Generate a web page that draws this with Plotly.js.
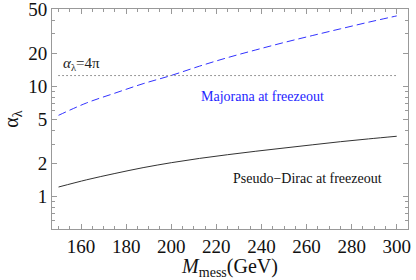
<!DOCTYPE html>
<html><head><meta charset="utf-8">
<script src="https://cdn.plot.ly/plotly-3.0.1.min.js"></script>
<style>html,body{margin:0;padding:0;background:#fff}#c{width:416px;height:280px}</style>
</head><body><div id="c"></div>
<script>
const mass = [150, 162.5, 175, 187.5, 200, 212.5, 225, 237.5, 250, 262.5, 275, 287.5, 300];
const majorana = [5.47, 7.1, 8.7, 10.6, 12.6, 15.3, 18.3, 21.5, 25.1, 29.0, 33.4, 38.4, 43.8];
const pseudoDirac = [1.22, 1.42, 1.62, 1.83, 2.03, 2.22, 2.4, 2.58, 2.76, 2.95, 3.15, 3.34, 3.53];
const bound = 12.566; // 4*pi
const boundX = [150, 300];
const yTickVals = [1, 2, 5, 10, 20, 50];
const yTickText = ["1", "2", "5", "10", "20", "50"];
const yMinorVals = [0.6, 0.7, 0.8, 0.9, 3, 4, 6, 7, 8, 9, 30, 40];
const xTickVals = [160, 180, 200, 220, 240, 260, 280, 300];

const serif = "'Liberation Serif', 'DejaVu Serif', serif";
const traces = [
  {x: mass, y: majorana, mode: "lines", line: {color: "rgb(50,50,255)", width: 1, dash: "8px,4px", shape: "spline"}, hoverinfo: "skip"},
  {x: mass, y: pseudoDirac, mode: "lines", line: {color: "#333", width: 1, shape: "spline"}, hoverinfo: "skip"},
  {x: boundX, y: [bound, bound], mode: "lines", line: {color: "#333", width: 1, dash: "1px,3px"}, hoverinfo: "skip"}
];
const axisCommon = {
  showgrid: false, zeroline: false, showline: true, linecolor: "#999", linewidth: 1,
  mirror: "allticks", ticks: "inside", ticklen: 5, tickcolor: "#999", tickwidth: 1,
  ticklabeloverflow: "allow",
  tickfont: {family: serif, size: 19, color: "#111"}
};
const layout = {
  width: 416, height: 280, showlegend: false,
  font: {family: serif},
  margin: {l: 52, r: 8, t: 9, b: 51},
  paper_bgcolor: "#fff", plot_bgcolor: "#fff",
  xaxis: Object.assign({}, axisCommon, {
    range: [147.1, 305], tickmode: "array", tickvals: xTickVals,
    minor: {dtick: 5, tick0: 150, ticks: "inside", ticklen: 3, tickcolor: "#999"},
    title: {text: "<i>M</i><sub>mess</sub>(GeV)", font: {family: serif, size: 20, color: "#111"}, standoff: 4}
  }),
  yaxis: Object.assign({}, axisCommon, {
    type: "log", range: [Math.log10(0.507), Math.log10(50.6)],
    tickmode: "array", tickvals: yTickVals, ticktext: yTickText,
    minor: {tickmode: "array", tickvals: yMinorVals, ticks: "inside", ticklen: 3, tickcolor: "#999"},
    title: {text: "α<sub>λ</sub>", font: {family: serif, size: 20, color: "#111"}, standoff: 8}
  }),
  annotations: [
    {x: 150, y: Math.log10(bound), xref: "x", yref: "y", text: "<i>α</i><sub>λ</sub>=4π", showarrow: false,
     xanchor: "left", yanchor: "bottom", yshift: 1, xshift: 2, font: {family: serif, size: 15, color: "#222"}},
    {x: 240.6, y: Math.log10(8.1), xref: "x", yref: "y", text: "Majorana at freezeout", showarrow: false,
     font: {family: serif, size: 14, color: "rgb(30,30,255)"}},
    {x: 260.5, y: Math.log10(1.47), xref: "x", yref: "y", text: "Pseudo−Dirac at freezeout", showarrow: false,
     font: {family: serif, size: 14, color: "#111"}}
  ]
};
Plotly.newPlot("c", traces, layout, {staticPlot: true, displayModeBar: false});
</script></body></html>
